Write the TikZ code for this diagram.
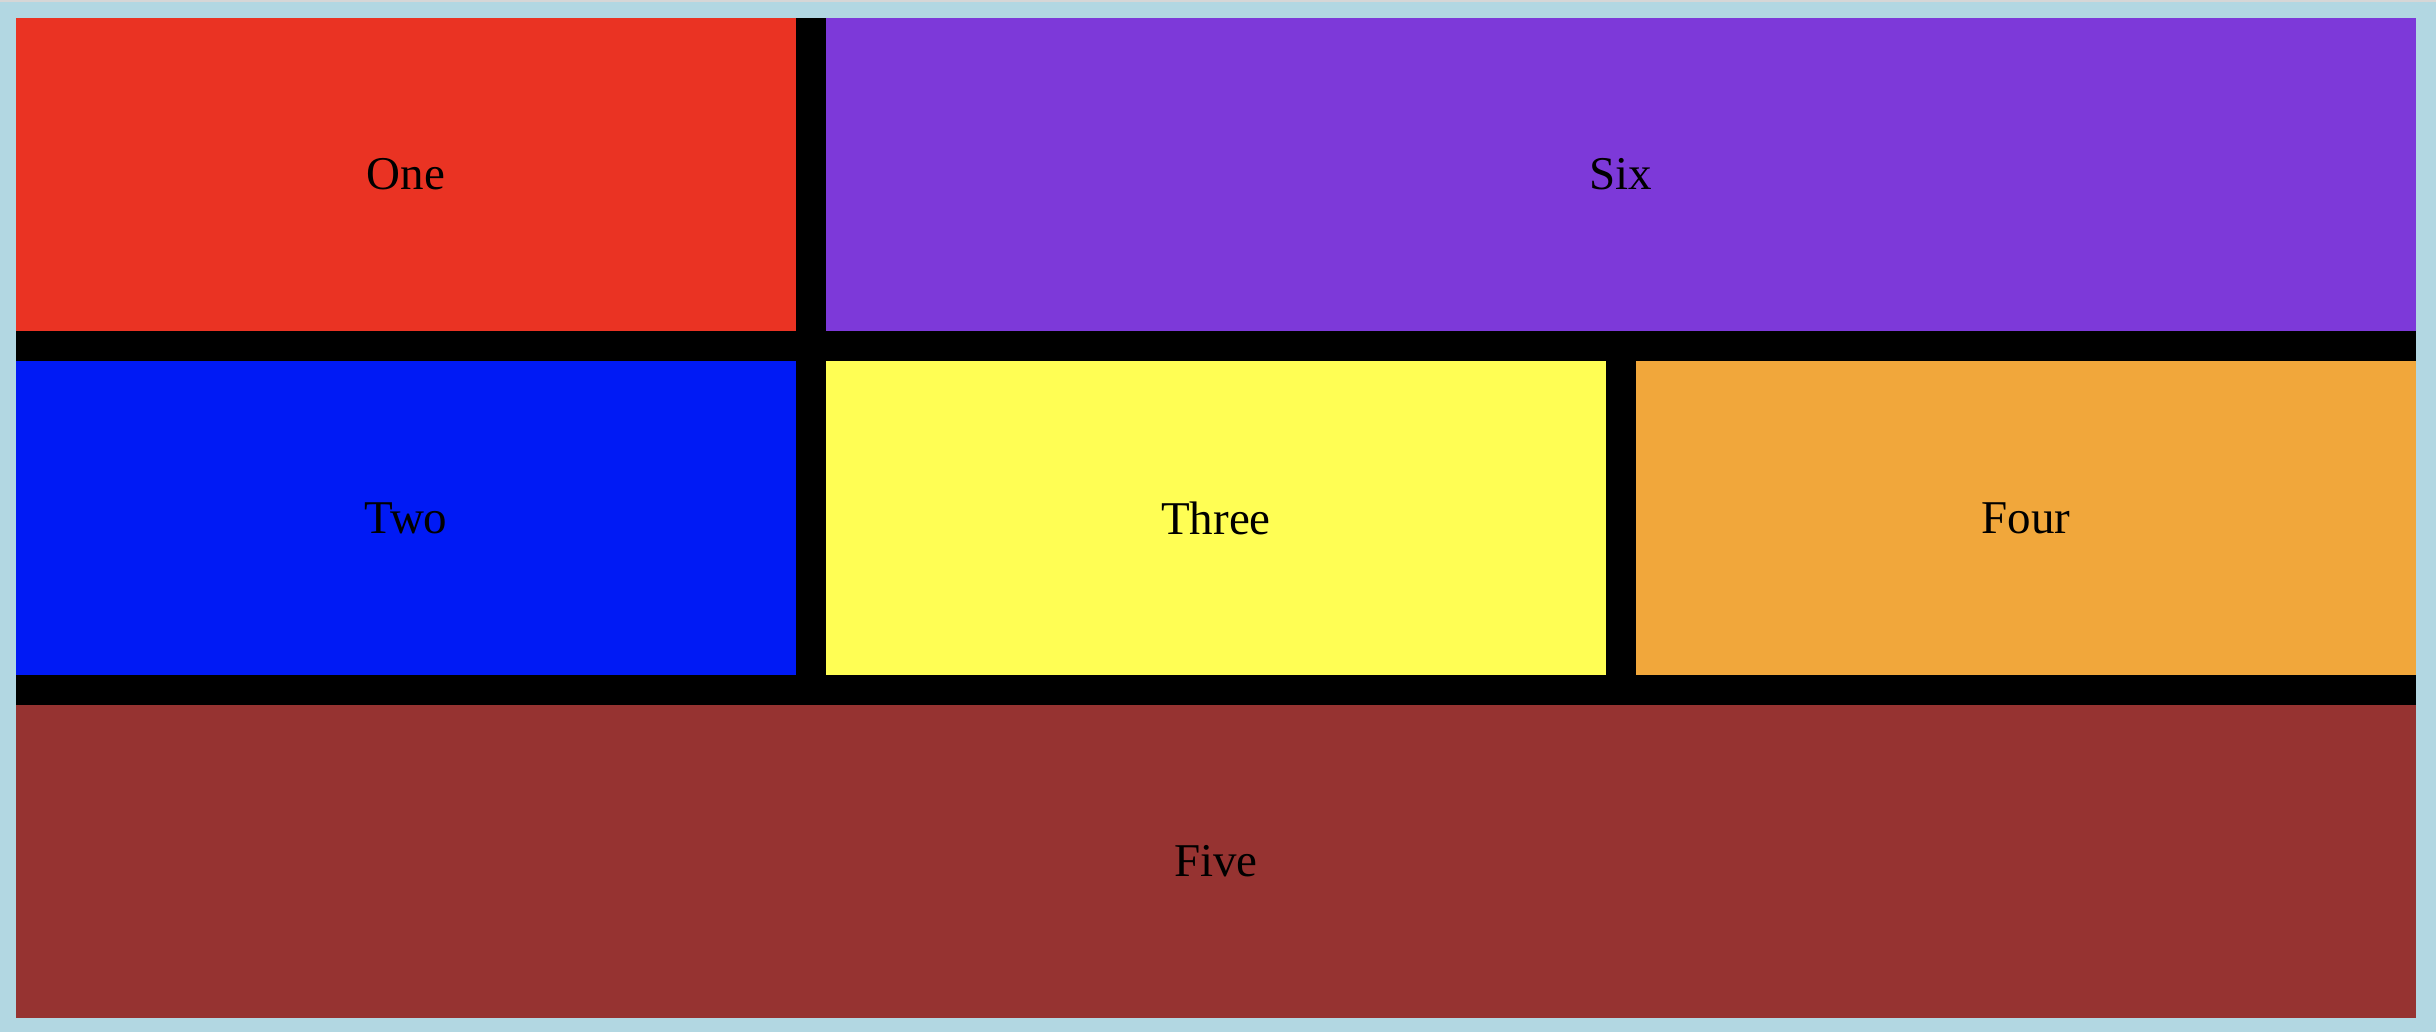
\documentclass[tikz,border=0pt]{standalone}
\usepackage{fontspec}
\setmainfont{Liberation Serif}
\definecolor{bgblue}{RGB}{178,215,226}
\definecolor{topgray}{RGB}{214,214,214}
\definecolor{cred}{RGB}{234,51,35}
\definecolor{cpurple}{RGB}{125,57,217}
\definecolor{cblue}{RGB}{0,26,245}
\definecolor{cyellow}{RGB}{255,254,84}
\definecolor{corange}{RGB}{241,167,59}
\definecolor{cbrown}{RGB}{150,51,49}
\tikzset{
  cell/.style={inner sep=0pt, outer sep=0pt, draw=none, font=\fontsize{47}{56}\selectfont, text=black, anchor=north west},
}
\begin{document}
\begin{tikzpicture}[x=1pt,y=-1pt]
\useasboundingbox (0,0) rectangle (2436,1032);
\fill[bgblue] (0,0) rectangle (2436,1032);
\fill[topgray] (0,0) rectangle (2436,2);
\fill[black] (16,18) rectangle (2416,1018);
\node[cell, fill=cred, minimum width=780pt, minimum height=313pt] (one) at (16,18) {One};
\node[cell, fill=cpurple, minimum width=1590pt, minimum height=313pt] (six) at (826,18) {Six};
\node[cell, fill=cblue, minimum width=780pt, minimum height=314pt] (two) at (16,361) {Two};
\node[cell, fill=cyellow, minimum width=780pt, minimum height=314pt] (three) at (826,361) {Three};
\node[cell, fill=corange, minimum width=780pt, minimum height=314pt] (four) at (1636,361) {Four};
\node[cell, fill=cbrown, minimum width=2400pt, minimum height=313pt] (five) at (16,705) {Five};
\end{tikzpicture}
\end{document}
